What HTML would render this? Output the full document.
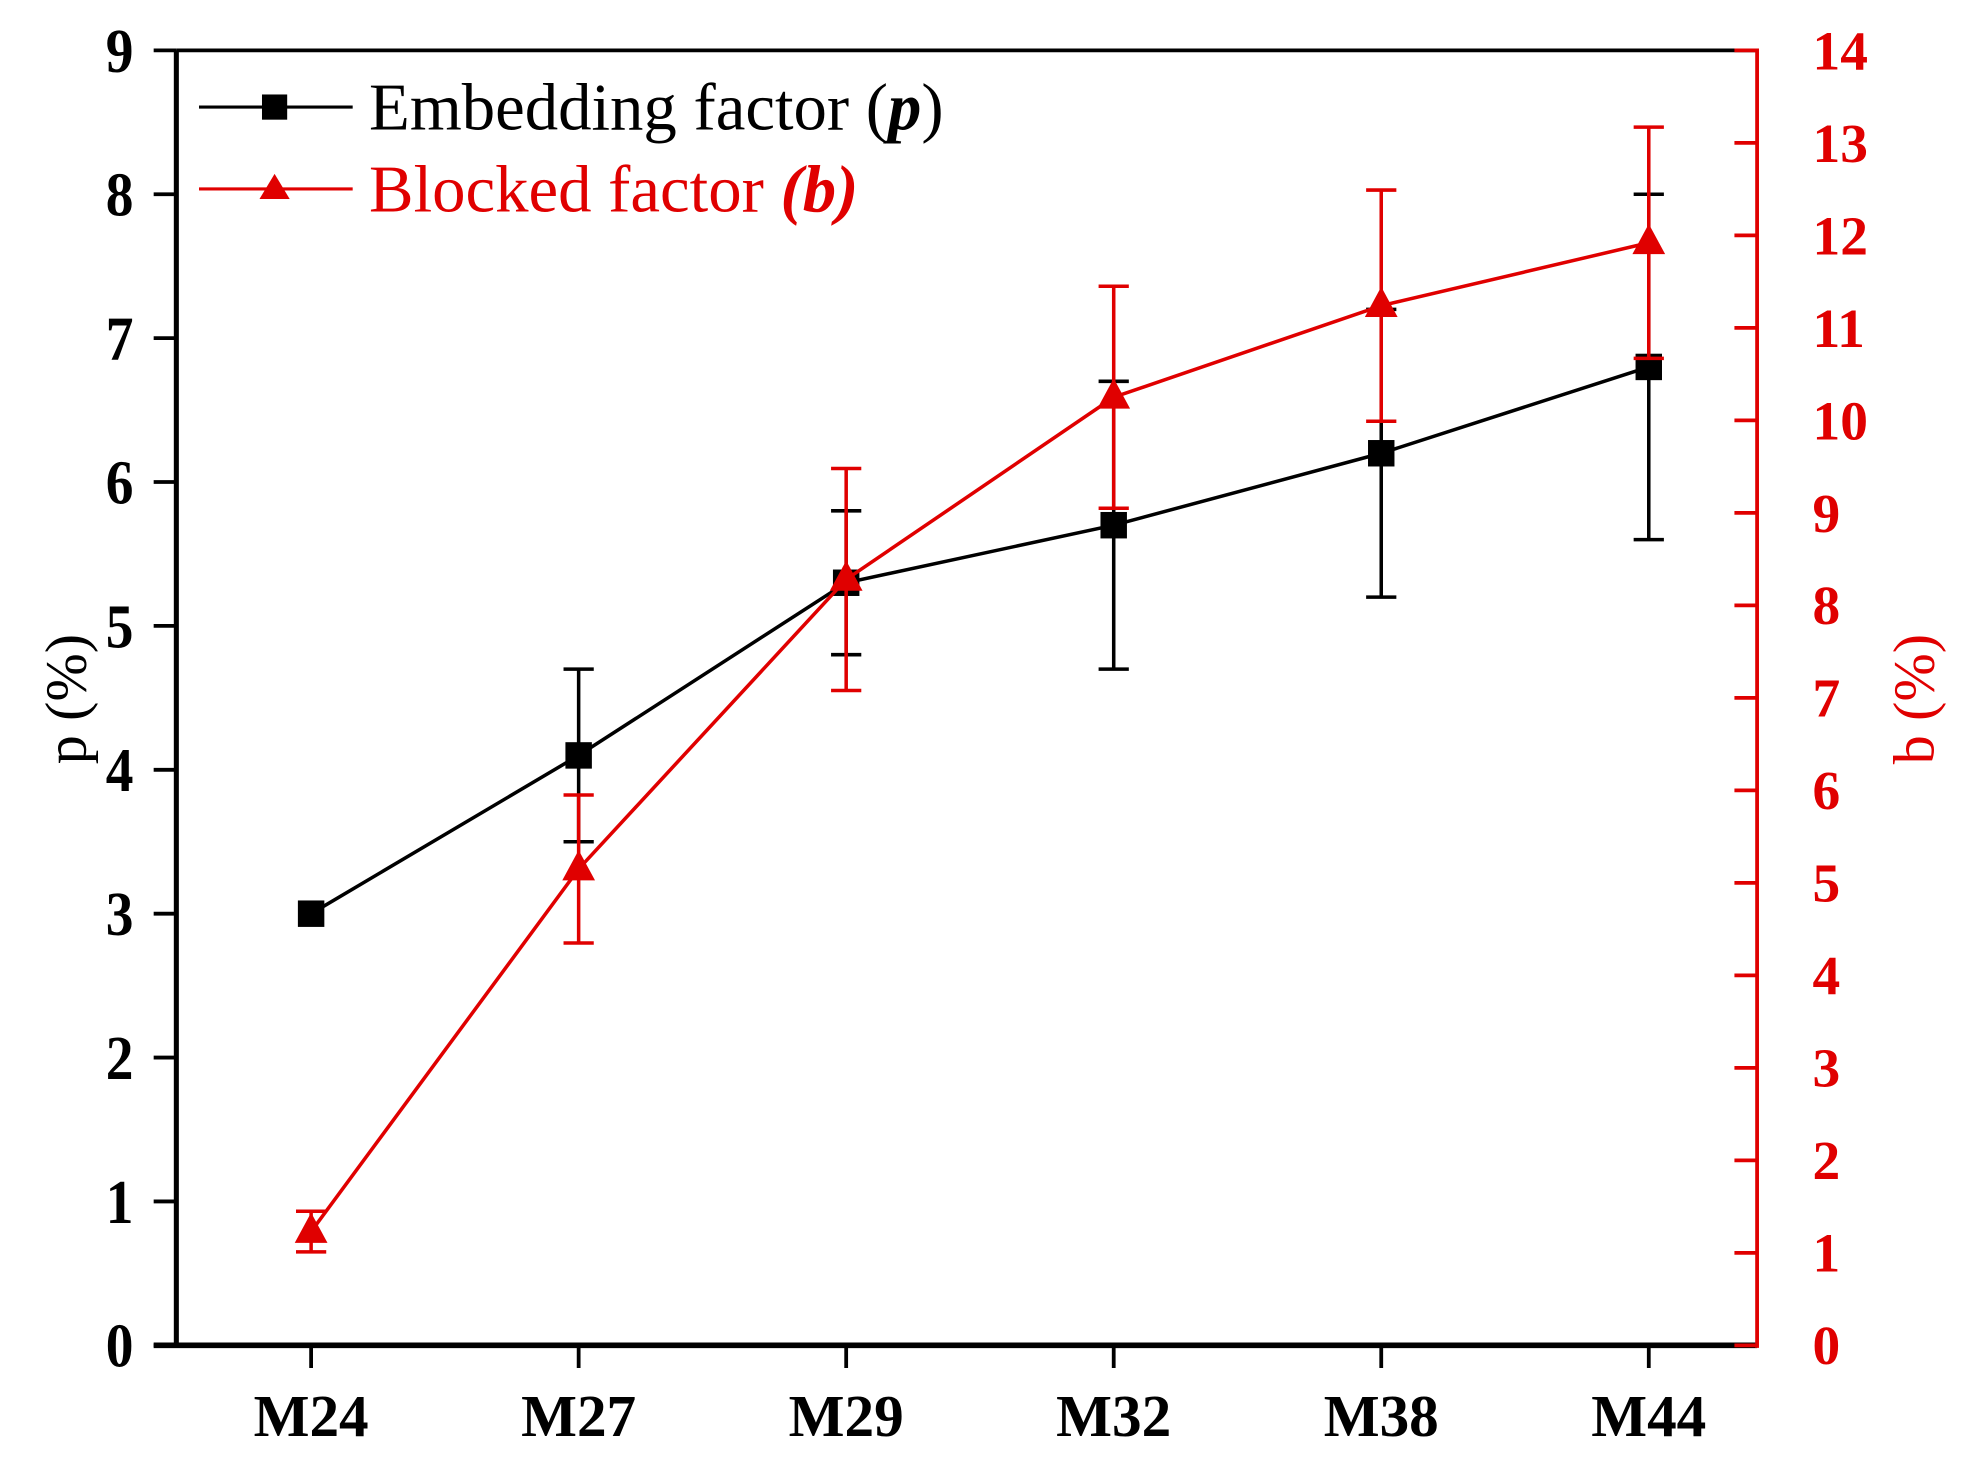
<!DOCTYPE html>
<html><head><meta charset="utf-8"><style>
html,body{margin:0;padding:0;background:#fff;}
svg{display:block;font-family:"Liberation Serif",serif;}
</style></head><body>
<svg id="chart" width="1975" height="1465" viewBox="0 0 1568 1163" preserveAspectRatio="none" xmlns="http://www.w3.org/2000/svg">
<g id="axes"></g>
<g id="series"></g>
<g id="legend">
  <line x1="158" y1="85" x2="280" y2="85" stroke="#000" stroke-width="2.5"/>
  <rect x="208" y="75" width="20" height="20" fill="#000"/>
  <text x="293" y="103" font-size="53" fill="#000">Embedding factor (<tspan font-weight="bold" font-style="italic">p</tspan>)</text>
  <line x1="158" y1="150" x2="280" y2="150" stroke="#e00000" stroke-width="2.5"/>
  <polygon points="218,138 230,158 206,158" fill="#e00000"/>
  <text x="293" y="168" font-size="53" fill="#e00000">Blocked factor <tspan font-weight="bold" font-style="italic">(b)</tspan></text>
</g>
</svg>
<script>
const categories = ["M24","M27","M29","M32","M38","M44"];
const pValues = [3.0, 4.1, 5.3, 5.7, 6.2, 6.8];
const pErrors = [0, 0.6, 0.5, 1.0, 1.0, 1.2];
const bValues = [1.23, 5.15, 8.28, 10.25, 11.24, 11.92];
const bErrors = [0.22, 0.8, 1.2, 1.2, 1.25, 1.25];
const leftTicks = [0,1,2,3,4,5,6,7,8,9];
const rightTicks = [0,1,2,3,4,5,6,7,8,9,10,11,12,13,14];

const L=140, R=1395, T=40, B=1068;
const NS="http://www.w3.org/2000/svg";
const xPos = i => 247 + i*212.4;
const yLeft = v => B - (v/9)*(B-T);
const yRight = v => B - (v/14)*(B-T);
const RED="#e00000";
function mk(tag, attrs, parent){const e=document.createElementNS(NS,tag);for(const k in attrs)e.setAttribute(k,attrs[k]);parent.appendChild(e);return e;}
const axes=document.getElementById('axes'), series=document.getElementById('series');

let e;
e=mk('line',{x1:L,y1:T,x2:R,y2:T,stroke:'#000','stroke-width':3},axes);


e=mk('line',{x1:L,y1:T,x2:L,y2:B+2,stroke:'#000','stroke-width':4},axes);


e=mk('line',{x1:L-18,y1:B,x2:R,y2:B,stroke:'#000','stroke-width':4.5},axes);


e=mk('line',{x1:R,y1:T-1.5,x2:R,y2:B+2,stroke:RED,'stroke-width':3},axes);



leftTicks.forEach(v=>{
  const y=yLeft(v);
  const t=mk('line',{x1:L-18,y1:y,x2:L,y2:y,stroke:'#000','stroke-width':3},axes);
  
  
  const tx=mk('text',{x:0,y:0,'font-size':50,'font-weight':'bold','text-anchor':'end',transform:`translate(106,${y+17}) scale(0.88,1)`},axes);
  tx.textContent=v;
  
  
});
rightTicks.forEach(v=>{
  const y=yRight(v);
  const t=mk('line',{x1:R-18,y1:y,x2:R,y2:y,stroke:RED,'stroke-width':3},axes);
  
  
  const tx=mk('text',{x:R+44,y:y+15,'font-size':44,'font-weight':'bold',fill:RED},axes);
  tx.textContent=v;
  
  
});
categories.forEach((c,i)=>{
  const x=xPos(i);
  const t=mk('line',{x1:x,y1:B,x2:x,y2:B+18,stroke:'#000','stroke-width':3},axes);
  
  
  const tx=mk('text',{x:x,y:B+72,'font-size':47,'font-weight':'bold','text-anchor':'middle'},axes);
  tx.textContent=c;
  
  
});
let at=mk('text',{x:0,y:0,'font-size':46,'text-anchor':'middle',transform:`translate(68,555) rotate(-90)`},axes);
at.textContent='p (%)';


at=mk('text',{x:0,y:0,'font-size':46,fill:RED,'text-anchor':'middle',transform:`translate(1535,555) rotate(-90)`},axes);
at.textContent='b (%)';



function drawSeries(vals, errs, yf, color, marker, name){
  const g=mk('g',{},series);
  
  
  const pts=vals.map((v,i)=>xPos(i)+','+yf(v)).join(' ');
  const pl=mk('polyline',{points:pts,fill:'none',stroke:color,'stroke-width':2.8},g);
  
  
  vals.forEach((v,i)=>{
    const x=xPos(i);
    if(errs[i]>0){
      const y1=yf(v-errs[i]), y2=yf(v+errs[i]);
      const eb=mk('path',{d:`M${x},${y1}V${y2}M${x-12},${y1}H${x+12}M${x-12},${y2}H${x+12}`,stroke:color,'stroke-width':2.8,fill:'none'},g);
      
      
    }
    let m;
    if(marker==='square') m=mk('rect',{x:x-10.5,y:yf(v)-10.5,width:21,height:21,fill:color},g);
    else m=mk('polygon',{points:`${x},${yf(v)-15} ${x+13},${yf(v)+9} ${x-13},${yf(v)+9}`,fill:color},g);
    
    
  });
}
drawSeries(pValues,pErrors,yLeft,'#000','square','embedding-factor');
drawSeries(bValues,bErrors,yRight,RED,'triangle','blocked-factor');
</script>
</body></html>
